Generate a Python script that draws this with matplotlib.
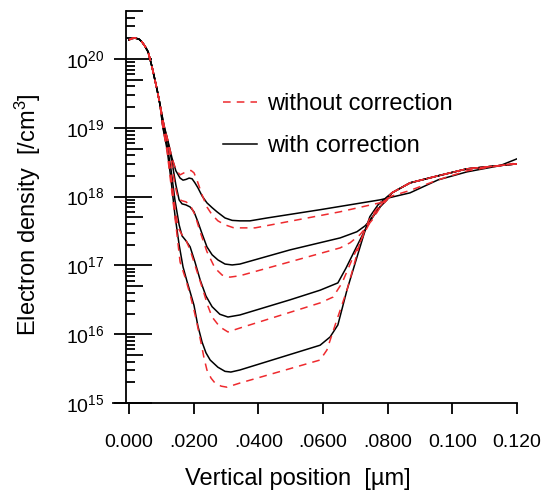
import matplotlib
matplotlib.use('Agg')
import numpy as np
import matplotlib.pyplot as plt
from matplotlib.ticker import LogLocator, NullFormatter

plt.rcParams['font.family'] = ['Liberation Sans', 'DejaVu Sans']
plt.rcParams['mathtext.fontset'] = 'custom'
plt.rcParams['mathtext.rm'] = 'Liberation Sans'
plt.rcParams['mathtext.it'] = 'Liberation Sans:italic'
plt.rcParams['mathtext.bf'] = 'Liberation Sans:bold'

# shared surface part (x in um, log10 of density in /cm3)
head_x = [0.0, 0.0009, 0.0019, 0.0031, 0.0040, 0.0049, 0.0059, 0.0065, 0.0071, 0.0080, 0.0087, 0.0096]
head_log = [20.28, 20.30, 20.305, 20.29, 20.25, 20.19, 20.106, 20.0, 19.89, 19.70, 19.55, 19.335]

# shared deep part of curves 2-4
tail_x = [0.0813, 0.0869, 0.0956, 0.1045, 0.1200]
tail_log = [18.055, 18.20, 18.303, 18.404, 18.477]

# curve 1 (highest)
c1_with_x = [0.0108, 0.0121, 0.0133, 0.0145, 0.0158, 0.0167, 0.0176, 0.0186, 0.0195, 0.0204,
             0.0213, 0.0226, 0.0241, 0.0257, 0.0272, 0.0297, 0.0319, 0.0343, 0.0374, 0.0427,
             0.0591, 0.0776, 0.0792, 0.0869, 0.0956, 0.1045, 0.1147, 0.1200]
c1_with_log = [19.04, 18.80, 18.56, 18.375, 18.27, 18.24, 18.25, 18.27, 18.26, 18.20,
               18.13, 18.01, 17.91, 17.84, 17.78, 17.69, 17.655, 17.648, 17.648, 17.69,
               17.81, 17.953, 17.97, 18.055, 18.244, 18.36, 18.45, 18.55]
c1_wo_x = [0.0108, 0.0121, 0.0133, 0.0145, 0.0158, 0.0170, 0.0182, 0.0192, 0.0201, 0.0210,
           0.0226, 0.0241, 0.0257, 0.0275, 0.0297, 0.0322, 0.0343, 0.0390, 0.0653, 0.0776,
           0.0813, 0.0869, 0.0956, 0.1045, 0.1200]
c1_wo_log = [19.04, 18.80, 18.56, 18.39, 18.317, 18.346, 18.375, 18.38, 18.346, 18.244,
             18.026, 17.85, 17.735, 17.648, 17.59, 17.55, 17.546, 17.546, 17.78, 17.91,
             18.01, 18.09, 18.244, 18.375, 18.49]

# curve 2
c2_with_x = [0.0108, 0.0121, 0.0133, 0.0145, 0.0155, 0.0164, 0.0176, 0.0189, 0.0201, 0.0213,
             0.0226, 0.0241, 0.0257, 0.0275, 0.0297, 0.0319, 0.0343, 0.0498, 0.0653, 0.0705,
             0.0730, 0.0752, 0.0776, 0.0798]
c2_with_log = [19.03, 18.78, 18.50, 18.17, 17.953, 17.895, 17.88, 17.85, 17.78, 17.635,
               17.46, 17.27, 17.155, 17.08, 17.02, 17.007, 17.02, 17.226, 17.40, 17.49,
               17.575, 17.69, 17.85, 17.953]
c2_wo_x = [0.0108, 0.0121, 0.0130, 0.0142, 0.0152, 0.0164, 0.0176, 0.0189, 0.0204, 0.0220,
           0.0241, 0.0266, 0.0288, 0.0312, 0.0343, 0.0653, 0.0684, 0.0714, 0.0752, 0.0776,
           0.0798]
c2_wo_log = [19.03, 18.77, 18.535, 18.17, 17.97, 17.94, 17.925, 17.88, 17.735, 17.49,
             17.20, 16.96, 16.86, 16.83, 16.85, 17.255, 17.33, 17.445, 17.66, 17.84,
             17.953]

# curve 3
c3_with_x = [0.0105, 0.0118, 0.0130, 0.0142, 0.0155, 0.0164, 0.0176, 0.0189, 0.0204, 0.0220,
             0.0238, 0.0257, 0.0281, 0.0306, 0.0343, 0.0498, 0.0591, 0.0646, 0.0671, 0.0699,
             0.0724, 0.0745, 0.0776, 0.0798]
c3_with_log = [19.01, 18.75, 18.39, 17.953, 17.59, 17.43, 17.36, 17.27, 17.05, 16.79,
               16.555, 16.40, 16.29, 16.25, 16.28, 16.50, 16.64, 16.746, 16.96, 17.226,
               17.46, 17.66, 17.85, 17.97]
c3_wo_x = [0.0105, 0.0118, 0.0130, 0.0142, 0.0152, 0.0164, 0.0176, 0.0189, 0.0207, 0.0229,
           0.0244, 0.0257, 0.0281, 0.0306, 0.0343, 0.0591, 0.0631, 0.0659, 0.0693, 0.0730,
           0.0761, 0.0792]
c3_wo_log = [19.01, 18.72, 18.317, 17.85, 17.546, 17.445, 17.37, 17.226, 16.96, 16.64,
             16.41, 16.25, 16.106, 16.033, 16.09, 16.455, 16.54, 16.746, 17.12, 17.49,
             17.765, 17.953]

# curve 4 (lowest)
c4_with_x = [0.0105, 0.0118, 0.0130, 0.0142, 0.0155, 0.0167, 0.0179, 0.0189, 0.0201, 0.0213,
             0.0226, 0.0238, 0.0251, 0.0275, 0.0297, 0.0315, 0.0343, 0.0591, 0.0622, 0.0646,
             0.0674, 0.0705, 0.0727, 0.0745, 0.0770, 0.0798]
c4_with_log = [19.0, 18.68, 18.244, 17.735, 17.30, 16.98, 16.775, 16.615, 16.42, 16.12,
               15.885, 15.73, 15.625, 15.52, 15.46, 15.45, 15.48, 15.84, 15.96, 16.135,
               16.64, 17.12, 17.46, 17.71, 17.88, 17.997]
c4_wo_x = [0.0105, 0.0118, 0.0130, 0.0145, 0.0158, 0.0176, 0.0189, 0.0201, 0.0210, 0.0223,
           0.0232, 0.0241, 0.0254, 0.0266, 0.0285, 0.0303, 0.0343, 0.0591, 0.0612, 0.0643,
           0.0674, 0.0696, 0.0714, 0.0745, 0.0776, 0.0798]
c4_wo_log = [19.0, 18.65, 18.17, 17.59, 17.05, 16.79, 16.575, 16.35, 16.164, 15.87,
             15.655, 15.48, 15.36, 15.29, 15.245, 15.23, 15.29, 15.625, 15.77, 16.21,
             16.64, 17.007, 17.33, 17.69, 17.88, 17.97]

xtick_vals = [0.0, 0.02, 0.04, 0.06, 0.08, 0.10, 0.12]
xtick_labels = ["0.000", ".0200", ".0400", ".0600", ".0800", "0.100", "0.120"]

RED = '#ee2a2e'


def full(xs, logs, with_tail):
    x = head_x + xs + (tail_x if with_tail else [])
    y = head_log + logs + (tail_log if with_tail else [])
    return np.array(x), 10 ** np.array(y)


fig = plt.figure(figsize=(5.47, 4.92), dpi=100)
ax = fig.add_axes([113 / 547, 1 - 403 / 492, 404 / 547, 392 / 492])

with_curves = [(c1_with_x, c1_with_log, False), (c2_with_x, c2_with_log, True),
               (c3_with_x, c3_with_log, True), (c4_with_x, c4_with_log, True)]
wo_curves = [(c1_wo_x, c1_wo_log, False), (c2_wo_x, c2_wo_log, True),
             (c3_wo_x, c3_wo_log, True), (c4_wo_x, c4_wo_log, True)]

for i, (xs, ls, t) in enumerate(with_curves):
    x, y = full(xs, ls, t)
    ax.plot(x, y, color='black', lw=1.1, label='with correction' if i == 0 else None, zorder=2)
for i, (xs, ls, t) in enumerate(wo_curves):
    x, y = full(xs, ls, t)
    ax.plot(x, y, color=RED, lw=1.1, linestyle=(0, (5, 4)),
            label='without correction' if i == 0 else None, zorder=3)

ax.set_yscale('log')
ax.set_ylim(1e15, 5e20)
ax.set_xlim(-0.00495, 0.12)

ax.spines['top'].set_visible(False)
ax.spines['right'].set_visible(False)
ax.spines['left'].set_position(('data', -0.00102))
for s in ['left', 'bottom']:
    ax.spines[s].set_linewidth(1.3)

ax.set_xticks(xtick_vals, labels=xtick_labels)
ax.tick_params(axis='x', direction='out', length=8, width=1.3, pad=14, labelsize=14)

ax.yaxis.set_major_locator(LogLocator(base=10, subs=(1.0,), numticks=20))
ax.yaxis.set_minor_locator(LogLocator(base=10, subs=(2, 3, 4, 6, 7, 8, 9), numticks=20))
ax.yaxis.set_minor_formatter(NullFormatter())
ax.tick_params(axis='y', which='major', direction='out', length=8.6, width=1.3, pad=7, labelsize=14)
ax.tick_params(axis='y', which='minor', direction='in', length=6.5, width=1.3)

# inward part of major ticks and the longer 5x ticks
sec = ax.secondary_yaxis(0.0315)
sec.yaxis.set_major_locator(LogLocator(base=10, subs=(1.0,), numticks=20))
sec.yaxis.set_minor_locator(LogLocator(base=10, subs=(5.0,), numticks=20))
sec.yaxis.set_minor_formatter(NullFormatter())
sec.tick_params(which='major', direction='in', length=18.5, width=1.3, labelleft=False, labelright=False)
sec.tick_params(which='minor', direction='in', length=12, width=1.3, labelleft=False, labelright=False)
for s in sec.spines.values():
    s.set_visible(False)

ax.set_xlabel('Vertical position  [\u00b5m]', fontsize=17)
ax.xaxis.set_label_coords(0.458, -0.167)
ax.set_ylabel('Electron density  [/cm$^3$]', fontsize=17)
ax.yaxis.set_label_coords(-0.173, 0.48)

handles, labels = ax.get_legend_handles_labels()
order = [labels.index('without correction'), labels.index('with correction')]
ax.legend([handles[i] for i in order], [labels[i] for i in order],
          loc='upper left', bbox_to_anchor=(0.272, 0.79), frameon=False, fontsize=17,
          handlelength=1.44, handletextpad=0.42, labelspacing=0.85,
          borderpad=0, borderaxespad=0)

fig.savefig('out.png', dpi=100)
